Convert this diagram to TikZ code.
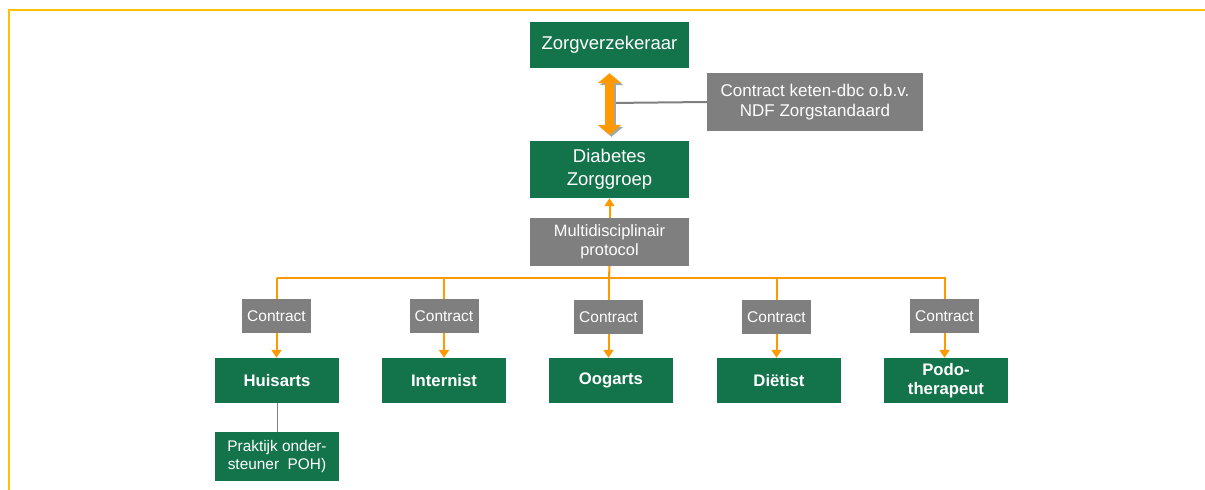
\documentclass[tikz,border=0pt]{standalone}
\usepackage{fontspec}
\setmainfont{Liberation Sans}
\usetikzlibrary{arrows.meta}
\definecolor{zgreen}{HTML}{13734B}
\definecolor{zgray}{HTML}{7F7F7F}
\definecolor{zorange}{HTML}{FF9900}
\definecolor{zframe}{HTML}{FFC000}

\begin{document}
\begin{tikzpicture}[x=1pt,y=-1pt,
    greenbox/.style={fill=zgreen,text=white,inner sep=0pt,align=center,
        minimum width=159pt,minimum height=46pt,font=\fontsize{18.5}{23}\selectfont},
    unitbox/.style={greenbox,minimum width=124pt,minimum height=45pt,
        font=\fontsize{16.7}{19}\selectfont\bfseries},
    graybox/.style={fill=zgray,text=white,inner sep=0pt,align=center,
        font=\fontsize{16.4}{19}\selectfont},
    contractbox/.style={graybox,minimum width=69pt,minimum height=34pt,
        font=\fontsize{15.5}{18}\selectfont},
    flow/.style={draw=zorange,line width=2pt,-{Triangle[width=10pt,length=8pt]}},
    busline/.style={draw=zorange,line width=2pt}]
    \useasboundingbox (0,0) rectangle (1205,490);
    \draw[zframe,line width=2pt] (9,491) -- (9,10) -- (1206,10);

    \node[greenbox] (zv) at (609.5,45) {Zorgverzekeraar};
    \node[graybox,minimum width=216pt,minimum height=58pt,
        font=\fontsize{17}{20}\selectfont] (ketendbc) at (815,102)
        {Contract keten-dbc o.b.v.\\NDF Zorgstandaard};
    \node[greenbox,minimum height=57pt] (zorggroep) at (609.5,169.5) {Diabetes\\Zorggroep};
    \node[graybox,minimum width=159pt,minimum height=48pt] (protocol) at (609.5,242)
        {Multidisciplinair\\protocol};
    \coordinate (bus) at (609,277.5);
    \coordinate (mid) at (609,103);

    \node[contractbox] (c1) at (276.5,316) {Contract};
    \node[contractbox] (c2) at (444,316) {Contract};
    \node[contractbox] (c3) at (608.5,317) {Contract};
    \node[contractbox] (c4) at (776.5,317) {Contract};
    \node[contractbox] (c5) at (944.5,316) {Contract};

    \node[unitbox] (huisarts) at (277,380.5) {Huisarts};
    \node[unitbox] (internist) at (444,380.5) {Internist};
    \node[unitbox] (oogarts) at (611,380.5) {Oogarts};
    \node[unitbox] (dietist) at (779,380.5) {Diëtist};
    \node[unitbox] (podo) at (946,380.5) {Podo-\\therapeut};
    \node[greenbox,minimum width=124pt,minimum height=49pt,
        font=\fontsize{15.4}{18}\selectfont] (poh) at (277,456.5)
        {Praktijk onder-\\steuner\ \ POH)};

    \draw[zgray,line width=2pt] (ketendbc.west) -- (mid);
    \draw[zgray!70,line width=9pt,{Triangle[width=23pt,length=10pt]}-{Triangle[width=23pt,length=10pt]},
        shorten <=5pt,shorten >=6pt] ([shift={(2,2)}]zv.south) -- ([shift={(2,2)}]zorggroep.north);
    \draw[zorange,line width=9pt,{Triangle[width=23pt,length=10pt]}-{Triangle[width=23pt,length=10pt]},
        shorten <=5pt,shorten >=6pt] (zv.south) -- (zorggroep.north);

    \draw[busline] (bus) -- (protocol.south);
    \draw[flow] (protocol.north) -- (zorggroep.south);
    \draw[busline] (bus -| huisarts) -- (bus -| podo);
    \draw[busline] (bus -| c1) -- (c1.north);
    \draw[busline] (bus -| c2) -- (c2.north);
    \draw[busline] (bus -| c3) -- (c3.north);
    \draw[busline] (bus -| c4) -- (c4.north);
    \draw[busline] (bus -| c5) -- (c5.north);
    \draw[flow] (c1.south) -- (huisarts.north -| c1);
    \draw[flow] (c2.south) -- (internist.north -| c2);
    \draw[flow] (c3.south) -- (oogarts.north -| c3);
    \draw[flow] (c4.south) -- (dietist.north -| c4);
    \draw[flow] (c5.south) -- (podo.north -| c5);
    \draw[zgray,line width=1pt] (huisarts.south) -- (poh.north);
\end{tikzpicture}
\end{document}
